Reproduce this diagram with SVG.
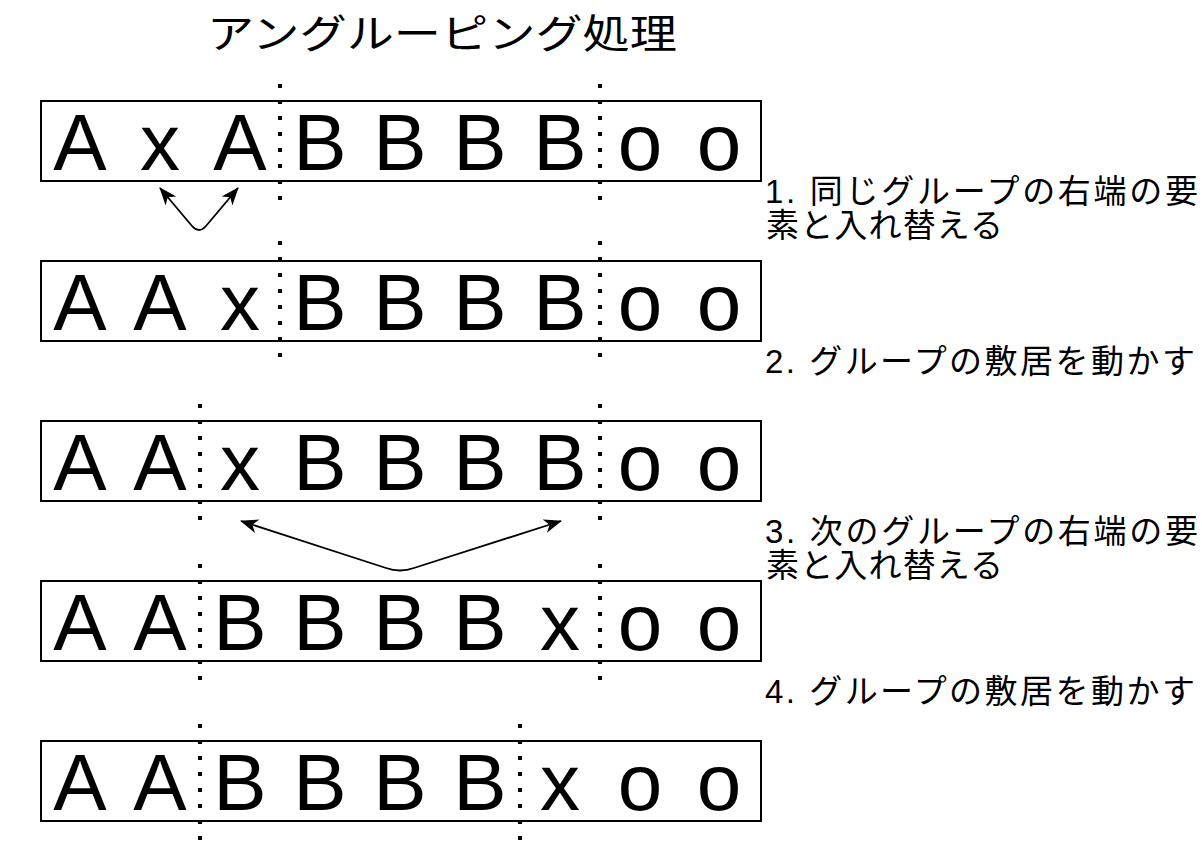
<svg xmlns="http://www.w3.org/2000/svg" width="1202" height="846" viewBox="0 0 1202 846">
<style>
.box{fill:#fff;stroke:#000;stroke-width:2}
.cell{font-family:"Liberation Sans",Arial,sans-serif;font-size:80px;text-anchor:middle;fill:#000}
.sep{stroke:#000;stroke-width:4;stroke-dasharray:4 12;fill:none}
.lbl{font-family:"Liberation Sans","Noto Sans CJK JP",sans-serif;font-size:33px;fill:#000}
.title{font-family:"Noto Sans CJK JP",sans-serif;font-size:40px;text-anchor:middle;fill:#000}
.arr{fill:none;stroke:#000;stroke-width:1.8;marker-start:url(#ah);marker-end:url(#ah)}
</style>
<defs>
<marker id="ah" viewBox="0 0 18 14" refX="17" refY="7" markerWidth="18" markerHeight="14" markerUnits="userSpaceOnUse" orient="auto-start-reverse">
<path d="M0,0 L18,7 L0,14 L5,7 Z" fill="#000"/>
</marker>
</defs>
<rect width="1202" height="846" fill="#fff"/>
<g id="title"><text class="title" x="442" y="48" textLength="470" lengthAdjust="spacingAndGlyphs">アングルーピング処理</text></g>

<g id="row1">
<rect class="box" x="41" y="101" width="720" height="80"/>
<text class="cell" x="80 160 240 320 400 480 560 640 719" y="170">AxABBBBoo</text>
<line class="sep" x1="280" y1="84" x2="280" y2="200"/>
<line class="sep" x1="600" y1="84" x2="600" y2="200"/>
</g>
<g id="row2">
<rect class="box" x="41" y="261" width="720" height="80"/>
<text class="cell" x="80 160 240 320 400 480 560 640 719" y="330">AAxBBBBoo</text>
<line class="sep" x1="280" y1="241" x2="280" y2="357"/>
<line class="sep" x1="600" y1="241" x2="600" y2="357"/>
</g>
<g id="row3">
<rect class="box" x="41" y="421" width="720" height="80"/>
<text class="cell" x="80 160 240 320 400 480 560 640 719" y="490">AAxBBBBoo</text>
<line class="sep" x1="200" y1="404" x2="200" y2="520"/>
<line class="sep" x1="600" y1="404" x2="600" y2="520"/>
</g>
<g id="row4">
<rect class="box" x="41" y="581" width="720" height="80"/>
<text class="cell" x="80 160 240 320 400 480 560 640 719" y="650">AABBBBxoo</text>
<line class="sep" x1="200" y1="564" x2="200" y2="680"/>
<line class="sep" x1="600" y1="564" x2="600" y2="680"/>
</g>
<g id="row5">
<rect class="box" x="41" y="741" width="720" height="80"/>
<text class="cell" x="80 160 240 320 400 480 560 640 719" y="810">AABBBBxoo</text>
<line class="sep" x1="200" y1="724" x2="200" y2="840"/>
<line class="sep" x1="520" y1="724" x2="520" y2="840"/>
</g>

<g id="label1"><text class="lbl" x="765" y="203" textLength="433" lengthAdjust="spacing">1. 同じグループの右端の要</text><text class="lbl" x="766" y="237" textLength="237" lengthAdjust="spacing">素と入れ替える</text></g>
<g id="label2"><text class="lbl" x="765" y="373" textLength="430" lengthAdjust="spacing">2. グループの敷居を動かす</text></g>
<g id="label3"><text class="lbl" x="765" y="543" textLength="433" lengthAdjust="spacing">3. 次のグループの右端の要</text><text class="lbl" x="766" y="577" textLength="237" lengthAdjust="spacing">素と入れ替える</text></g>
<g id="label4"><text class="lbl" x="765" y="703" textLength="430" lengthAdjust="spacing">4. グループの敷居を動かす</text></g>

<g id="connectors">
<path class="arr" d="M160,188 L192,226 Q199,234 206,226 L238,188"/>
<path class="arr" d="M241,521 L386,568 Q400,573 414,568 L561,521"/>
</g>
</svg>
